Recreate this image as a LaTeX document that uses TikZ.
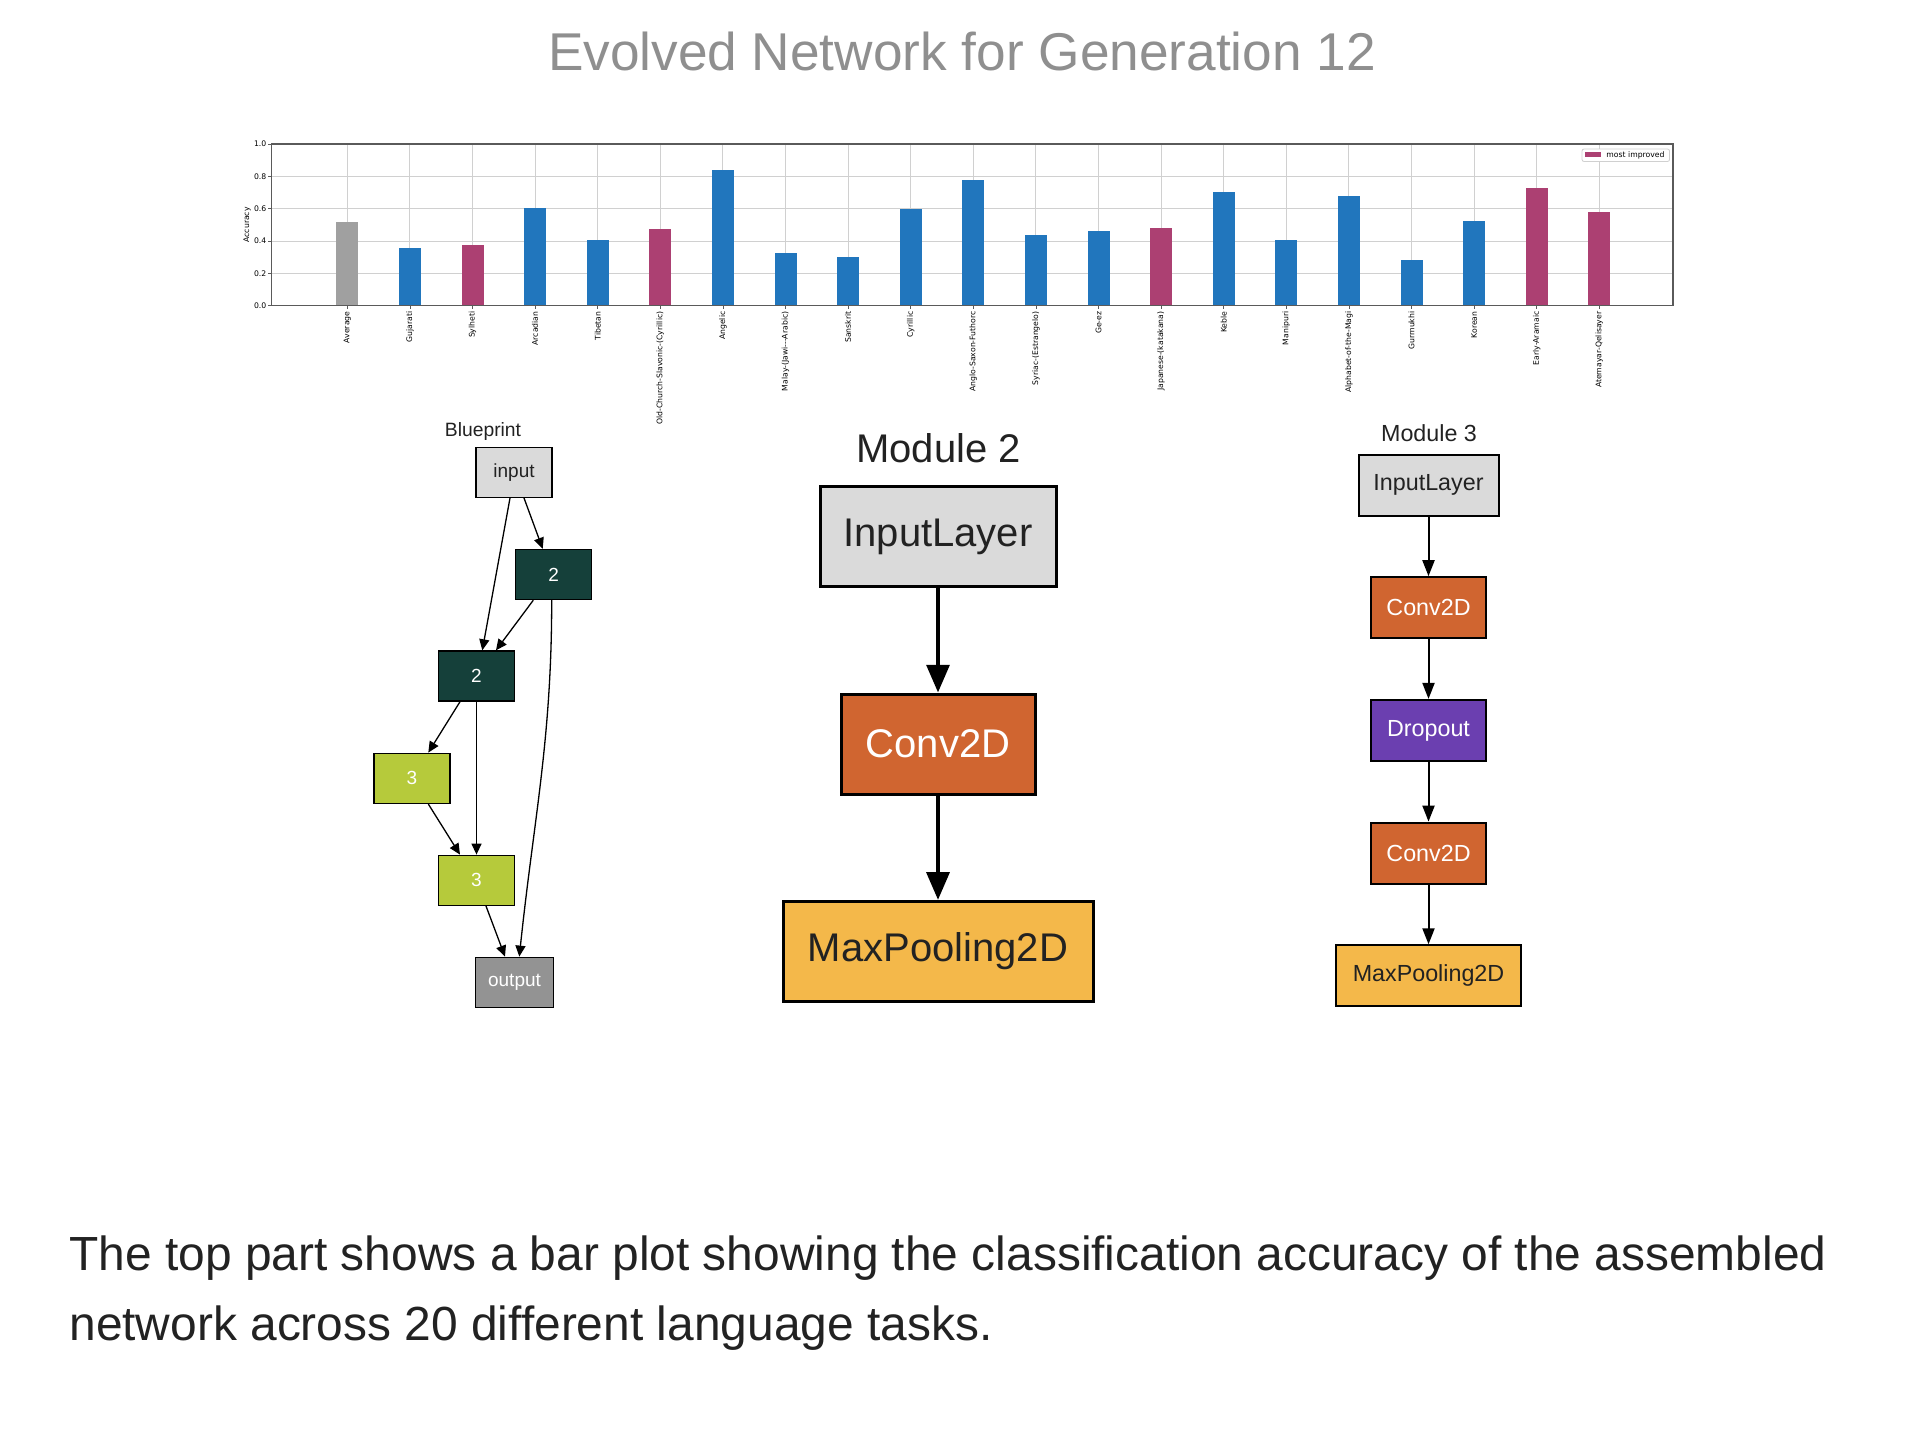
\documentclass[tikz,border=0pt]{standalone}
\usepackage{fontspec}
\setmainfont{Liberation Sans}
\newfontfamily\chartfont{DejaVu Sans}
\usetikzlibrary{positioning,arrows.meta}

\definecolor{titleGray}{RGB}{143,143,143}
\definecolor{textDark}{RGB}{34,34,34}
\definecolor{barBlue}{RGB}{33,118,189}
\definecolor{barMagenta}{RGB}{172,64,114}
\definecolor{barGray}{RGB}{160,160,160}
\definecolor{gridGray}{RGB}{208,208,208}
\definecolor{frameGray}{RGB}{90,90,90}
\definecolor{inputGray}{RGB}{218,218,218}
\definecolor{darkTeal}{RGB}{21,64,58}
\definecolor{limeGreen}{RGB}{182,202,59}
\definecolor{outputGray}{RGB}{147,147,147}
\definecolor{convOrange}{RGB}{208,101,48}
\definecolor{dropPurple}{RGB}{107,63,176}
\definecolor{poolYellow}{RGB}{244,184,74}

\tikzstyle{canvas} = [x = 0.5pt, y = -0.5pt]
\tikzstyle{gridLine} = [color=gridGray, line width=0.5pt]
\tikzstyle{chartLabel} = [font=\chartfont\fontsize{3.85}{4.5}\selectfont, inner sep=0pt]
\tikzstyle{blueprintBox} = [draw=black, line width=0.7pt, minimum width=38pt, minimum height=25pt, inner sep=0pt, text=textDark, font=\fontsize{9.5}{11}\selectfont]
\tikzstyle{blueprintArrow} = [-{Triangle[length=5.5pt, width=5pt]}, line width=0.65pt]
\tikzstyle{moduleTwoBox} = [draw=black, line width=1.5pt, minimum height=50pt, inner sep=0pt, text=textDark, font=\fontsize{20}{24}\selectfont]
\tikzstyle{moduleTwoArrow} = [-{Triangle[length=13.85pt, width=11.35pt]}, line width=2pt]
\tikzstyle{moduleThreeBox} = [draw=black, line width=1pt, minimum height=30.5pt, inner sep=0pt, text=textDark, font=\fontsize{11.65}{14}\selectfont]
\tikzstyle{moduleThreeArrow} = [-{Triangle[length=8pt, width=6pt]}, line width=1pt]

\newcommand{\axisLeft}{271.7}
\newcommand{\axisRight}{1673}
\newcommand{\axisTop}{144}
\newcommand{\axisBottom}{305.7}
\newcommand{\unitHeight}{161.7}
\newcommand{\firstBar}{347.3}
\newcommand{\barSpacing}{62.6}
\newcommand{\halfBar}{11}

\begin{document}
\begin{tikzpicture}[canvas]
  \useasboundingbox (0,0) rectangle (1920,1440);

  % title
  \node[anchor=base, text=titleGray, font=\fontsize{26.6}{32}\selectfont, inner sep=0pt] (mainTitle) at (962, 70) {Evolved Network for Generation 12};

  % bar plot
  \foreach \t [count=\k] in {0.2,0.4,0.6,0.8} {
    \pgfmathsetmacro{\ty}{\axisBottom - \unitHeight * \t}
    \draw [gridLine] (\axisLeft, \ty) -- (\axisRight, \ty);
  }
  \foreach \val/\col/\lab [count=\i from 0] in {
      0.515/barGray/Average, 0.355/barBlue/Gujarati, 0.375/barMagenta/Sylheti,
      0.606/barBlue/Arcadian, 0.406/barBlue/Tibetan,
      0.474/barMagenta/{Old-Church-Slavonic-(Cyrillic)}, 0.839/barBlue/Angelic,
      0.324/barBlue/{Malay-(Jawi-{}-{}-Arabic)}, 0.303/barBlue/Sanskrit,
      0.598/barBlue/Cyrillic, 0.777/barBlue/Anglo-Saxon-Futhorc,
      0.435/barBlue/{Syriac-(Estrangelo)}, 0.462/barBlue/Ge-ez,
      0.478/barMagenta/{Japanese-(katakana)}, 0.703/barBlue/Keble,
      0.406/barBlue/Manipuri, 0.676/barBlue/Alphabet-of-the-Magi,
      0.282/barBlue/Gurmukhi, 0.526/barBlue/Korean,
      0.730/barMagenta/Early-Aramaic, 0.579/barMagenta/Atemayar-Qelisayer} {
    \pgfmathsetmacro{\xc}{\firstBar + \barSpacing * \i}
    \pgfmathsetmacro{\yt}{\axisBottom - \unitHeight * \val}
    \draw [gridLine] (\xc, \axisTop) -- (\xc, \axisBottom);
    \fill [\col] (\xc - \halfBar, \axisBottom) rectangle (\xc + \halfBar, \yt);
    \draw [frameGray, line width=0.4pt] (\xc, \axisBottom) -- (\xc, \axisBottom + 3);
    \node [chartLabel, rotate=90, anchor=east] (barLabel\i) at (\xc, \axisBottom + 5.5) {\lab};
  }
  \draw [frameGray, line width=0.7pt] (\axisLeft, \axisTop) rectangle (\axisRight, \axisBottom);
  \foreach \t [count=\k] in {0.0,0.2,0.4,0.6,0.8,1.0} {
    \pgfmathsetmacro{\ty}{\axisBottom - \unitHeight * \t}
    \draw [frameGray, line width=0.4pt] (\axisLeft - 3.5, \ty) -- (\axisLeft, \ty);
    \node [chartLabel, anchor=east] (tickLabel\k) at (\axisLeft - 5, \ty) {\t};
  }
  \node [chartLabel, rotate=90] (accuracyLabel) at (247, 224.9) {Accuracy};
  \draw [gridGray, fill=white, rounded corners=1pt, line width=0.4pt] (1582, 149) rectangle (1669.5, 161.5);
  \fill [barMagenta] (1585, 152.2) rectangle (1601, 156.8);
  \node [chartLabel, anchor=west] (legendText) at (1606, 155) {most improved};

  % blueprint
  \node [anchor=base, text=textDark, font=\fontsize{9.65}{11}\selectfont, inner sep=0pt] (blueprintTitle) at (483, 436.9) {Blueprint};
  \node [blueprintBox, fill=inputGray] (bpInput) at (514, 472.3) {input};
  \node [blueprintBox, fill=darkTeal, text=white] (bpTwoA) at (553.7, 574.5) {2};
  \node [blueprintBox, fill=darkTeal, text=white] (bpTwoB) at (476.5, 676) {2};
  \node [blueprintBox, fill=limeGreen, text=white] (bpThreeA) at (412, 778.3) {3};
  \node [blueprintBox, fill=limeGreen, text=white] (bpThreeB) at (476.5, 880.3) {3};
  \node [blueprintBox, fill=outputGray, text=white, minimum width=39pt] (bpOutput) at (514.5, 982.3) {output};
  \draw [blueprintArrow] ([xshift=-2pt]bpInput.south) -- ([xshift=2.9pt]bpTwoB.north);
  \draw [blueprintArrow] ([xshift=5pt]bpInput.south) -- ([xshift=-5.5pt]bpTwoA.north);
  \draw [blueprintArrow] ([xshift=-10.2pt]bpTwoA.south) -- ([xshift=9.75pt]bpTwoB.north);
  \draw [blueprintArrow] ([xshift=-1pt]bpTwoA.south) to[out=-90, in=84] ([xshift=2.4pt]bpOutput.north);
  \draw [blueprintArrow] ([xshift=-8.25pt]bpTwoB.south) -- ([xshift=8.15pt]bpThreeA.north);
  \draw [blueprintArrow] (bpTwoB.south) -- (bpThreeB.north);
  \draw [blueprintArrow] ([xshift=8.15pt]bpThreeA.south) -- ([xshift=-8.25pt]bpThreeB.north);
  \draw [blueprintArrow] ([xshift=4.75pt]bpThreeB.south) -- ([xshift=-4.75pt]bpOutput.north);

  % module 2
  \node [anchor=base, text=textDark, font=\fontsize{20}{24}\selectfont, inner sep=0pt] (moduleTwoTitle) at (938.5, 462.7) {Module 2};
  \node [moduleTwoBox, fill=inputGray, minimum width=118pt] (mTwoInput) at (938, 536.6) {InputLayer};
  \node [moduleTwoBox, fill=convOrange, text=white, minimum width=97pt, below=52.2pt of mTwoInput] (mTwoConv) {Conv2D};
  \node [moduleTwoBox, fill=poolYellow, minimum width=155pt, below=52.2pt of mTwoConv] (mTwoPool) {MaxPooling2D};
  \draw [moduleTwoArrow] (mTwoInput) -- (mTwoConv);
  \draw [moduleTwoArrow] (mTwoConv) -- (mTwoPool);

  % module 3
  \node [anchor=base, text=textDark, font=\fontsize{11.65}{14}\selectfont, inner sep=0pt] (moduleThreeTitle) at (1429, 441.6) {Module 3};
  \node [moduleThreeBox, fill=inputGray, minimum width=70pt] (mThreeInput) at (1428.5, 485) {InputLayer};
  \node [moduleThreeBox, fill=convOrange, text=white, minimum width=57.5pt, below=29.85pt of mThreeInput] (mThreeConvA) {Conv2D};
  \node [moduleThreeBox, fill=dropPurple, text=white, minimum width=57.5pt, below=29.85pt of mThreeConvA] (mThreeDrop) {Dropout};
  \node [moduleThreeBox, fill=convOrange, text=white, minimum width=57.5pt, below=29.85pt of mThreeDrop] (mThreeConvB) {Conv2D};
  \node [moduleThreeBox, fill=poolYellow, minimum width=92.5pt, below=29.85pt of mThreeConvB] (mThreePool) {MaxPooling2D};
  \draw [moduleThreeArrow] (mThreeInput) -- (mThreeConvA);
  \draw [moduleThreeArrow] (mThreeConvA) -- (mThreeDrop);
  \draw [moduleThreeArrow] (mThreeDrop) -- (mThreeConvB);
  \draw [moduleThreeArrow] (mThreeConvB) -- (mThreePool);

  % caption
  \node [anchor=base west, text=textDark, font=\fontsize{23.95}{28}\selectfont, inner sep=0pt] (captionOne) at (69, 1270) {The top part shows a bar plot showing the classification accuracy of the assembled};
  \node [anchor=base west, text=textDark, font=\fontsize{23.95}{28}\selectfont, inner sep=0pt] (captionTwo) at (69, 1340) {network across 20 different language tasks.};
\end{tikzpicture}
\end{document}
